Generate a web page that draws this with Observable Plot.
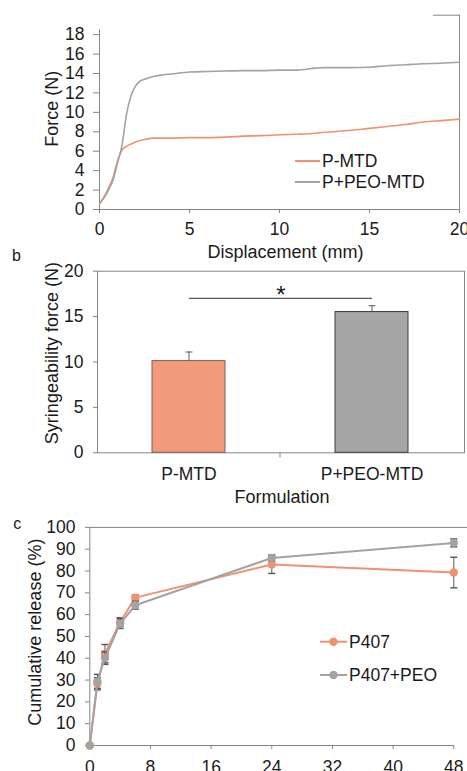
<!DOCTYPE html>
<html>
<head>
<meta charset="utf-8">
<script src="https://cdn.jsdelivr.net/npm/d3@7"></script>
<script src="https://cdn.jsdelivr.net/npm/@observablehq/plot@0.6"></script>
<style>
html, body { margin: 0; padding: 0; background: #fff; }
#root { position: relative; width: 467px; height: 771px; overflow: hidden; }
#root svg { position: absolute; left: 0; display: block; }
</style>
</head>
<body>
<div id="root"></div>
<script>
// ---------- Panel a: force vs displacement ----------
const displacement = [0,0.25,0.5,0.75,1,1.25,1.5,1.75,2,2.25,2.5,3,3.5,4,5,6,7,8,9,10,11,12,12.5,13,14,15,16,17,18,19,20];
const forcePMTD = [0.6,1.3,2.2,3.3,5.0,6.1,6.5,6.75,6.95,7.1,7.2,7.35,7.35,7.35,7.4,7.4,7.45,7.55,7.6,7.7,7.75,7.85,7.95,8.0,8.15,8.35,8.55,8.75,9.0,9.15,9.3];
const forcePEO = [0.6,1.2,2.0,3.0,4.8,6.6,9.8,11.7,12.7,13.2,13.4,13.7,13.85,13.95,14.15,14.2,14.25,14.3,14.3,14.35,14.35,14.55,14.6,14.6,14.6,14.65,14.8,14.9,15.0,15.05,15.15];
const forceTicks = [0,2,4,6,8,10,12,14,16,18];
const dispTicks = [0,5,10,15,20];
const seriesA = ["P-MTD", "P+PEO-MTD"];

// ---------- Panel b: syringeability ----------
const formulations = ["P-MTD", "P+PEO-MTD"];
const syringeForce = [10.1, 15.5];
const syringeErr = [1.0, 0.7];
const syringeTicks = [0,5,10,15,20];
const sigLevel = 17;
const sigStarLevel = 18;
const sigMark = "*";

// ---------- Panel c: cumulative release ----------
const timeH = [0,1,2,4,6,24,48];
const releaseP407 = [0,28.3,42.1,56.6,67.8,83.0,79.3];
const errP407 = [0,2.8,4.2,2.0,1.2,4.1,7.0];
const releasePEO = [0,29.4,40.1,55.9,64.3,86.0,92.9];
const errPEO = [0,3.2,2.9,2.2,1.8,1.4,1.8];
const releaseTicks = [0,10,20,30,40,50,60,70,80,90,100];
const timeTicks = [0,8,16,24,32,40,48];
const seriesC = ["P407", "P407+PEO"];

// ---------- styles ----------
const FONT = "'Liberation Sans', Arial, Helvetica, sans-serif";
const TEXT = "#1a1a1a";
const AXIS = "#858585";
const ORANGE = "#f0926f";
const GRAY = "#a3a3a3";
const BAR_ORANGE = "#f19a7c";
const BAR_GRAY = "#a6a6a6";
const ERR = "#5a5a5a";
const FS = 17.5;
const W = 467;

const baseStyle = {fontFamily: FONT, fontSize: FS + "px", color: TEXT, background: "transparent", overflow: "visible"};

// horizontal cap symbol for error bars
const capSymbol = {
  draw(ctx, size) {
    const r = Math.sqrt(size / Math.PI);
    ctx.moveTo(-r, 0);
    ctx.lineTo(r, 0);
  }
};

function lineLegend(items, {x0, y0, gap, len, dotR, fontSize}) {
  return () => {
    const g = d3.create("svg:g");
    items.forEach((it, k) => {
      const y = y0 + k * gap;
      g.append("line").attr("x1", x0).attr("x2", x0 + len).attr("y1", y).attr("y2", y)
        .attr("stroke", it.color).attr("stroke-width", 2);
      if (dotR) g.append("circle").attr("cx", x0 + len / 2).attr("cy", y).attr("r", dotR).attr("fill", it.color);
      g.append("text").attr("x", x0 + len + 2).attr("y", y).attr("dy", "0.35em")
        .attr("text-anchor", "start")
        .attr("font-size", fontSize).attr("font-family", FONT).attr("fill", TEXT).text(it.label);
    });
    return g.node();
  };
}

function title(str, frameAnchor, dx, dy, opts = {}) {
  return Plot.text([str], {text: d => d, frameAnchor, dx, dy, textAnchor: "middle", lineAnchor: "middle", fill: TEXT, fontSize: 18, ...opts});
}

const root = document.getElementById("root");

// ================= Panel a =================
const plotA = Plot.plot({
  width: W,
  height: 265,
  marginTop: 14.7,
  marginBottom: 56,
  marginLeft: 99,
  marginRight: 8,
  style: baseStyle,
  x: {domain: [0, 20]},
  y: {domain: [0, 20]},
  marks: [
    Plot.ruleY([0], {stroke: AXIS}),
    Plot.ruleX([0], {y1: 0, y2: 18.5, stroke: AXIS}),
    Plot.ruleX([20], {stroke: AXIS}),
    Plot.ruleY([20], {x1: 18.55, x2: 20, stroke: AXIS}),
    Plot.axisY({ticks: forceTicks, tickSize: 6, tickPadding: 9, fontSize: FS, stroke: AXIS, fill: TEXT, label: null}),
    Plot.axisX({ticks: dispTicks, tickSize: 4, tickPadding: 9, fontSize: FS, stroke: AXIS, fill: TEXT, label: null}),
    Plot.line(displacement, {x: d => d, y: (d, i) => forcePMTD[i], stroke: ORANGE, strokeWidth: 1.6, curve: "monotone-x"}),
    Plot.line(displacement, {x: d => d, y: (d, i) => forcePEO[i], stroke: GRAY, strokeWidth: 1.6, curve: "monotone-x"}),
    lineLegend([{label: seriesA[0], color: ORANGE}, {label: seriesA[1], color: GRAY}],
      {x0: 295, y0: 161, gap: 21, len: 25, dotR: 0, fontSize: FS}),
    title("Force (N)", "left", -47.3, -3.5, {rotate: -90}),
    title("Displacement (mm)", "bottom", 6, 43),
    title("b", "bottom-left", -83, 46, {fontSize: 16})
  ]
});
plotA.style.top = "0px";
root.appendChild(plotA);

// ================= Panel b =================
const plotB = Plot.plot({
  width: W,
  height: 265,
  marginTop: 25.7,
  marginBottom: 57.7,
  marginLeft: 97,
  marginRight: 3,
  style: baseStyle,
  color: {type: "identity"},
  x: {domain: formulations, paddingInner: 0.6, paddingOuter: 0.3},
  y: {domain: [0, 20]},
  marks: [
    Plot.frame({stroke: AXIS}),
    Plot.axisY({ticks: syringeTicks, tickSize: 4, tickPadding: 10, fontSize: FS, stroke: AXIS, fill: TEXT, label: null}),
    Plot.axisX({tickSize: 0, tickPadding: 14.5, fontSize: FS, fill: TEXT, label: null}),
    (index, scales) => {
      const x = scales.x, y = scales.y;
      const bw = x.bandwidth ? x.bandwidth() : 0;
      const bx = (x(formulations[0]) + bw + x(formulations[1])) / 2;
      return d3.create("svg:line").attr("x1", bx).attr("x2", bx).attr("y1", y(0)).attr("y2", y(0) + 5)
        .attr("stroke", AXIS).node();
    },
    Plot.ruleX(formulations, {x: d => d, y1: (d, i) => syringeForce[i], y2: (d, i) => syringeForce[i] + syringeErr[i], stroke: ERR}),
    Plot.dot(formulations, {x: d => d, y: (d, i) => syringeForce[i] + syringeErr[i], symbol: capSymbol, r: 3.5, fill: "none", stroke: ERR, strokeWidth: 1}),
    Plot.barY(formulations, {x: d => d, y: (d, i) => syringeForce[i],
      fill: (d, i) => i === 0 ? BAR_ORANGE : BAR_GRAY,
      stroke: (d, i) => i === 0 ? "#7d6259" : "#3f3f3f", strokeWidth: 1}),
    Plot.link([sigLevel], {x1: () => formulations[0], x2: () => formulations[1], y1: d => d, y2: d => d, stroke: "#555", strokeWidth: 1.2}),
    Plot.text([sigStarLevel], {y: d => d, text: () => sigMark, frameAnchor: "middle", textAnchor: "middle", fontSize: 24, dy: 6, fill: TEXT}),
    title("Syringeability force (N)", "left", -45, -8.9, {rotate: -90}),
    title("Formulation", "bottom", 1, 44.4)
  ]
});
plotB.style.top = "245px";
root.appendChild(plotB);

// ================= Panel c =================
const rowsP407 = timeH.map((t, i) => ({t, v: releaseP407[i], e: errP407[i]}));
const rowsPEO = timeH.map((t, i) => ({t, v: releasePEO[i], e: errPEO[i]}));
function seriesMarks(rows, color) {
  return [
    Plot.ruleX(rows.filter(d => d.e > 0), {x: "t", y1: d => d.v - d.e, y2: d => d.v + d.e, stroke: ERR, strokeWidth: 1}),
    Plot.dot(rows.filter(d => d.e > 0), {x: "t", y: d => d.v + d.e, symbol: capSymbol, r: 3.5, fill: "none", stroke: ERR}),
    Plot.dot(rows.filter(d => d.e > 0), {x: "t", y: d => d.v - d.e, symbol: capSymbol, r: 3.5, fill: "none", stroke: ERR}),
    Plot.line(rows, {x: "t", y: "v", stroke: color, strokeWidth: 2}),
    Plot.dot(rows, {x: "t", y: "v", r: 4.2, fill: color, stroke: "none"})
  ];
}
const plotC = Plot.plot({
  width: W,
  height: 266,
  marginTop: 21.9,
  marginBottom: 26,
  marginLeft: 89.3,
  marginRight: 13.7,
  style: baseStyle,
  x: {domain: [0, 48]},
  y: {domain: [0, 100]},
  marks: [
    Plot.ruleY([0], {stroke: AXIS}),
    Plot.ruleX([0], {stroke: AXIS}),
    Plot.ruleY([100], {stroke: AXIS, insetRight: -13.7}),
    Plot.axisY({ticks: releaseTicks, tickSize: 4.3, tickPadding: 10, fontSize: FS, stroke: AXIS, fill: TEXT, label: null}),
    Plot.axisX({ticks: timeTicks, tickSize: 4, tickPadding: 11, fontSize: FS, stroke: AXIS, fill: TEXT, label: null}),
    ...seriesMarks(rowsP407, ORANGE),
    ...seriesMarks(rowsPEO, GRAY),
    lineLegend([{label: seriesC[0], color: ORANGE}, {label: seriesC[1], color: GRAY}],
      {x0: 320, y0: 136.7, gap: 33.3, len: 27, dotR: 4.2, fontSize: FS}),
    title("Cumulative release (%)", "left", -54.3, -4.3, {rotate: -90}),
    title("c", "top-left", -72.6, -3.2, {fontSize: 16})
  ]
});
plotC.style.top = "505px";
root.appendChild(plotC);
</script>
</body>
</html>
